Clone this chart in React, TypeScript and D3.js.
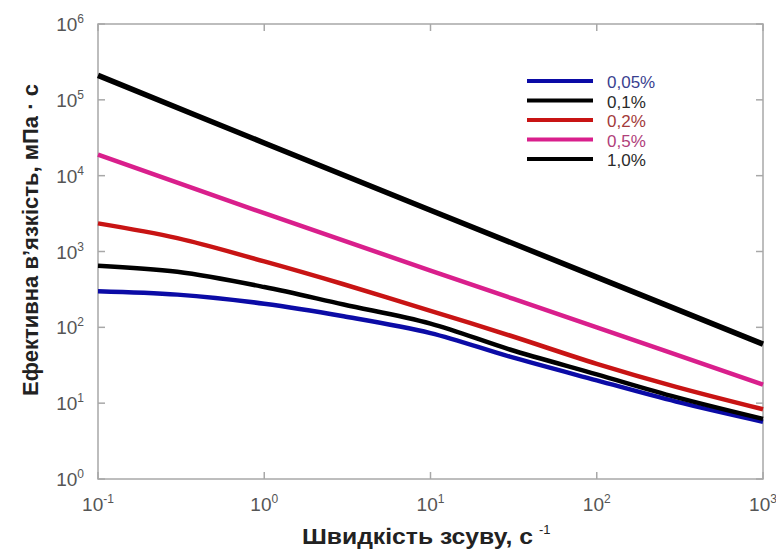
import React, { useEffect, useRef } from "react";
import * as d3 from "d3";

// shear rate, 1/s
const shearRates = [0.1, 0.3, 1, 3, 10, 30, 100, 300, 1000];
const ratesLine = [0.1, 1, 10, 100, 1000];

// effective viscosity, mPa·s
const visc005 = [300, 270, 205, 140, 84, 41, 20, 10.5, 5.7];
const visc01 = [650, 540, 340, 200, 112, 51, 24, 12, 6.2];
const visc02 = [2350, 1500, 740, 370, 165, 78, 33, 16.4, 8.3];
const visc05 = [19000, 3200, 560, 100, 17.5];
const visc10 = [210000, 27000, 3500, 460, 60];

const seriesLabels = ["0,05%", "0,1%", "0,2%", "0,5%", "1,0%"];
const xTickExps = [-1, 0, 1, 2, 3];
const yTickExps = [0, 1, 2, 3, 4, 5, 6];

const W = 776;
const H = 549;

const App = () => {
  const svgRef = useRef<SVGSVGElement | null>(null);

  useEffect(() => {
    if (!svgRef.current) return;
    const svg = d3.select(svgRef.current);
    svg.selectAll("*").remove();

    const left = 98;
    const right = 763;
    const top = 24;
    const bottom = 479;

    const x = d3.scaleLog().domain([0.1, 1000]).range([left, right]);
    const y = d3.scaleLog().domain([1, 1e6]).range([bottom, top]);

    const frameColor = "#a8a8a8";
    const tickColor = "#555";

    // рамка
    svg
      .append("rect")
      .attr("x", left)
      .attr("y", top)
      .attr("width", right - left)
      .attr("height", bottom - top)
      .attr("fill", "none")
      .attr("stroke", frameColor)
      .attr("stroke-width", 1.5);

    const tickLen = 7;
    const g = svg.append("g").attr("stroke", frameColor).attr("stroke-width", 1.5);
    xTickExps.forEach((e) => {
      const px = x(Math.pow(10, e));
      g.append("line").attr("x1", px).attr("x2", px).attr("y1", bottom).attr("y2", bottom - tickLen);
      g.append("line").attr("x1", px).attr("x2", px).attr("y1", top).attr("y2", top + tickLen);
    });
    yTickExps.forEach((e) => {
      const py = y(Math.pow(10, e));
      g.append("line").attr("x1", left).attr("x2", left + tickLen).attr("y1", py).attr("y2", py);
      g.append("line").attr("x1", right).attr("x2", right - tickLen).attr("y1", py).attr("y2", py);
    });

    const font = "'Liberation Sans', Arial, sans-serif";

    // подписи осей X
    xTickExps.forEach((e) => {
      const t = svg
        .append("text")
        .attr("x", x(Math.pow(10, e)))
        .attr("y", 511)
        .attr("text-anchor", "middle")
        .attr("font-family", font)
        .attr("font-size", 19)
        .attr("fill", tickColor);
      t.append("tspan").text("10");
      t.append("tspan").attr("dy", -8).attr("font-size", 12).text(String(e));
    });

    // подписи осей Y
    yTickExps.forEach((e) => {
      const t = svg
        .append("text")
        .attr("x", 84)
        .attr("y", y(Math.pow(10, e)) + 7)
        .attr("text-anchor", "end")
        .attr("font-family", font)
        .attr("font-size", 19)
        .attr("fill", tickColor);
      t.append("tspan").text("10");
      t.append("tspan").attr("dy", -8).attr("font-size", 12).text(String(e));
    });

    const series = [
      { rates: shearRates, vals: visc005, color: "#0b0ba6", text: "#3a3f8f", w: 4.5 },
      { rates: shearRates, vals: visc01, color: "#000000", text: "#2a2a2a", w: 4.5 },
      { rates: shearRates, vals: visc02, color: "#c81414", text: "#a33a3a", w: 4.5 },
      { rates: ratesLine, vals: visc05, color: "#d91f8c", text: "#b0407a", w: 4.5 },
      { rates: ratesLine, vals: visc10, color: "#000000", text: "#2a2a2a", w: 5.5 },
    ];

    const line = d3
      .line<[number, number]>()
      .x((d) => x(d[0]))
      .y((d) => y(d[1]))
      .curve(d3.curveCatmullRom.alpha(0.5));

    series.forEach((s) => {
      svg
        .append("path")
        .datum(s.rates.map((r, i) => [r, s.vals[i]] as [number, number]))
        .attr("d", line)
        .attr("fill", "none")
        .attr("stroke", s.color)
        .attr("stroke-width", s.w)
        .attr("stroke-linecap", "butt");
    });

    // легенда
    series.forEach((s, i) => {
      const ly = 81 + i * 19.5;
      svg
        .append("line")
        .attr("x1", 527)
        .attr("x2", 593)
        .attr("y1", ly)
        .attr("y2", ly)
        .attr("stroke", s.color)
        .attr("stroke-width", 4);
      svg
        .append("text")
        .attr("x", 607)
        .attr("y", ly + 7)
        .attr("font-family", font)
        .attr("font-size", 17)
        .attr("fill", s.text)
        .text(seriesLabels[i]);
    });

    // назви осей
    const xl = svg
      .append("text")
      .attr("x", 302)
      .attr("y", 544)
      .attr("font-family", font)
      .attr("font-weight", "bold")
      .attr("font-size", 22)
      .attr("fill", "#222");
    xl.append("tspan")
      .attr("textLength", 231)
      .attr("lengthAdjust", "spacingAndGlyphs")
      .text("Швидкість зсуву, с");
    xl.append("tspan").attr("dx", 6).attr("dy", -10).attr("font-size", 13).attr("font-weight", "normal").text("-1");

    svg
      .append("text")
      .attr("transform", "translate(38,240) rotate(-90)")
      .attr("text-anchor", "middle")
      .attr("font-family", font)
      .attr("font-weight", "bold")
      .attr("font-size", 22)
      .attr("fill", "#222")
      .text("Ефективна в’язкість, мПа · с");
  }, []);

  return (
    <svg
      ref={svgRef}
      width={W}
      height={H}
      style={{ position: "absolute", left: 0, top: 0, background: "#fff" }}
    />
  );
};

export default App;
